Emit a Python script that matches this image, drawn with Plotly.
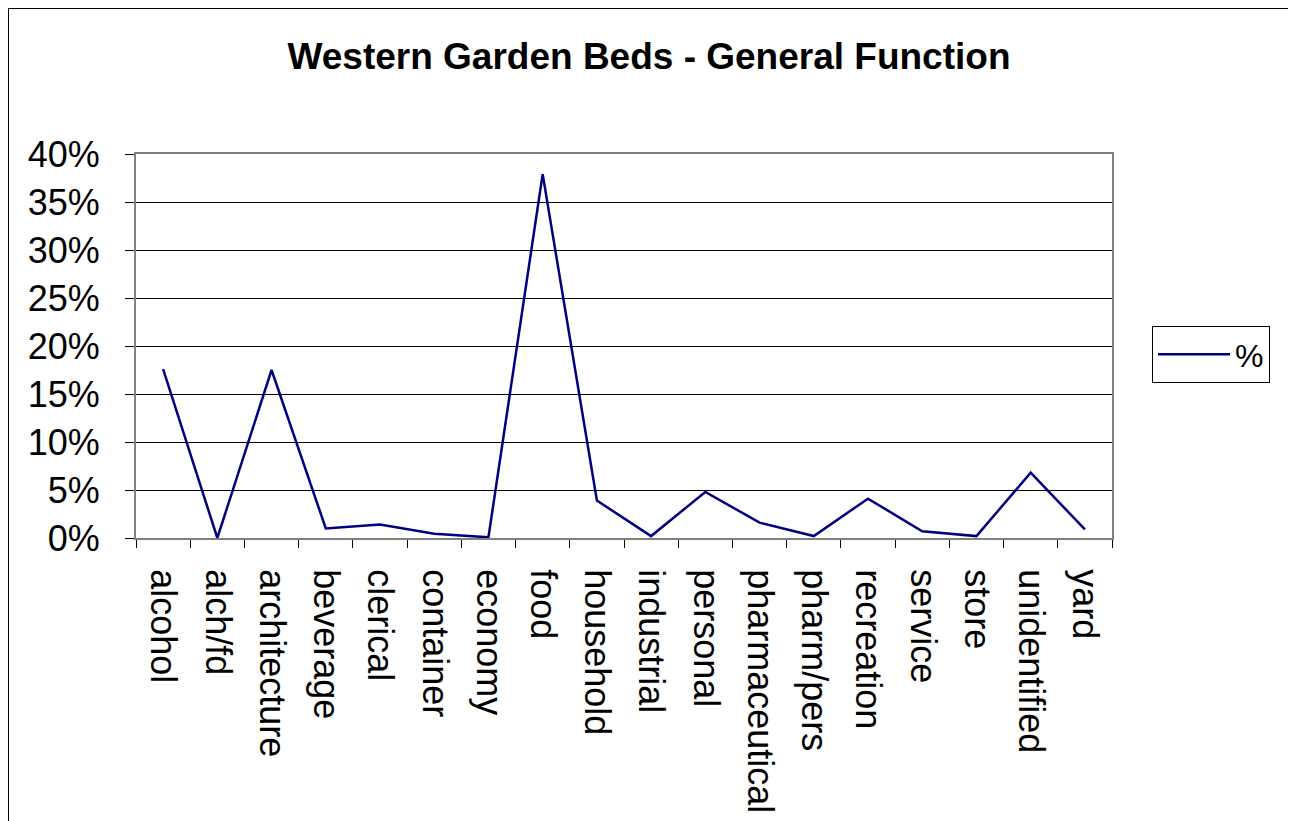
import plotly.graph_objects as go

categories = ["alcohol", "alch/fd", "architecture", "beverage", "clerical", "container",
              "economy", "food", "household", "industrial", "personal", "pharmaceutical",
              "pharm/pers", "recreation", "service", "store", "unidentified", "yard"]
percent = [17.6, 0.0, 17.5, 1.0, 1.4, 0.45, 0.07, 37.9, 3.9, 0.2, 4.8, 1.6,
           0.2, 4.1, 0.7, 0.2, 6.8, 0.9]
y_ticks = [0, 0.05, 0.10, 0.15, 0.20, 0.25, 0.30, 0.35, 0.40]

# page has an 8px body margin; figure coordinates = screen - 8
OFF = 8
W, H = 1288, 813
L, R, T, B = 136 - OFF, 1112 - OFF, 154 - OFF, 538 - OFF

fig = go.Figure()
fig.add_trace(go.Scatter(
    x=categories, y=[v / 100 for v in percent], mode="lines", name="%",
    line=dict(color="#000080", width=2.5),
))

def px_x(p):
    return (p - OFF - L) / (R - L)

def px_y(p):
    return (B - (p - OFF)) / (B - T)

fig.add_shape(type="rect", xref="paper", yref="paper",
              x0=px_x(8.5), x1=px_x(1288.5), y0=px_y(830), y1=px_y(8.5),
              line=dict(color="black", width=1), layer="below")

fig.update_layout(
    width=W, height=H,
    margin=dict(l=L, r=W - R, t=T, b=H - B, autoexpand=False),
    paper_bgcolor="white", plot_bgcolor="white",
    font=dict(family="Arial, Liberation Sans, sans-serif", color="black", size=36),
    title=dict(text="<b>Western Garden Beds - General Function</b>",
               x=(649 - OFF) / W, xref="container", xanchor="center",
               y=1 - (56 - OFF) / H, yref="container", yanchor="middle",
               font=dict(size=37, color="black")),
    showlegend=True,
    legend=dict(x=px_x(1152), y=px_y(326), xanchor="left", yanchor="top",
                bordercolor="black", borderwidth=1, bgcolor="white",
                font=dict(size=32), itemwidth=72),
    xaxis=dict(type="category", range=[-0.5, len(categories) - 0.5],
               tickangle=90, tickson="boundaries", ticks="outside", ticklen=8,
               tickcolor="black", showline=True, linecolor="#808080", linewidth=2,
               mirror=True, showgrid=False, ticklabelstandoff=22,
               tickfont=dict(size=36)),
    yaxis=dict(range=[0, 0.4], tickvals=y_ticks, tickformat=".0%",
               ticks="outside", ticklen=9, tickcolor="black",
               showline=True, linecolor="#808080", linewidth=2, mirror=True,
               showgrid=True, gridcolor="black", gridwidth=1, zeroline=False,
               ticklabelstandoff=18, tickfont=dict(size=36)),
)

fig.write_html("out.html")
